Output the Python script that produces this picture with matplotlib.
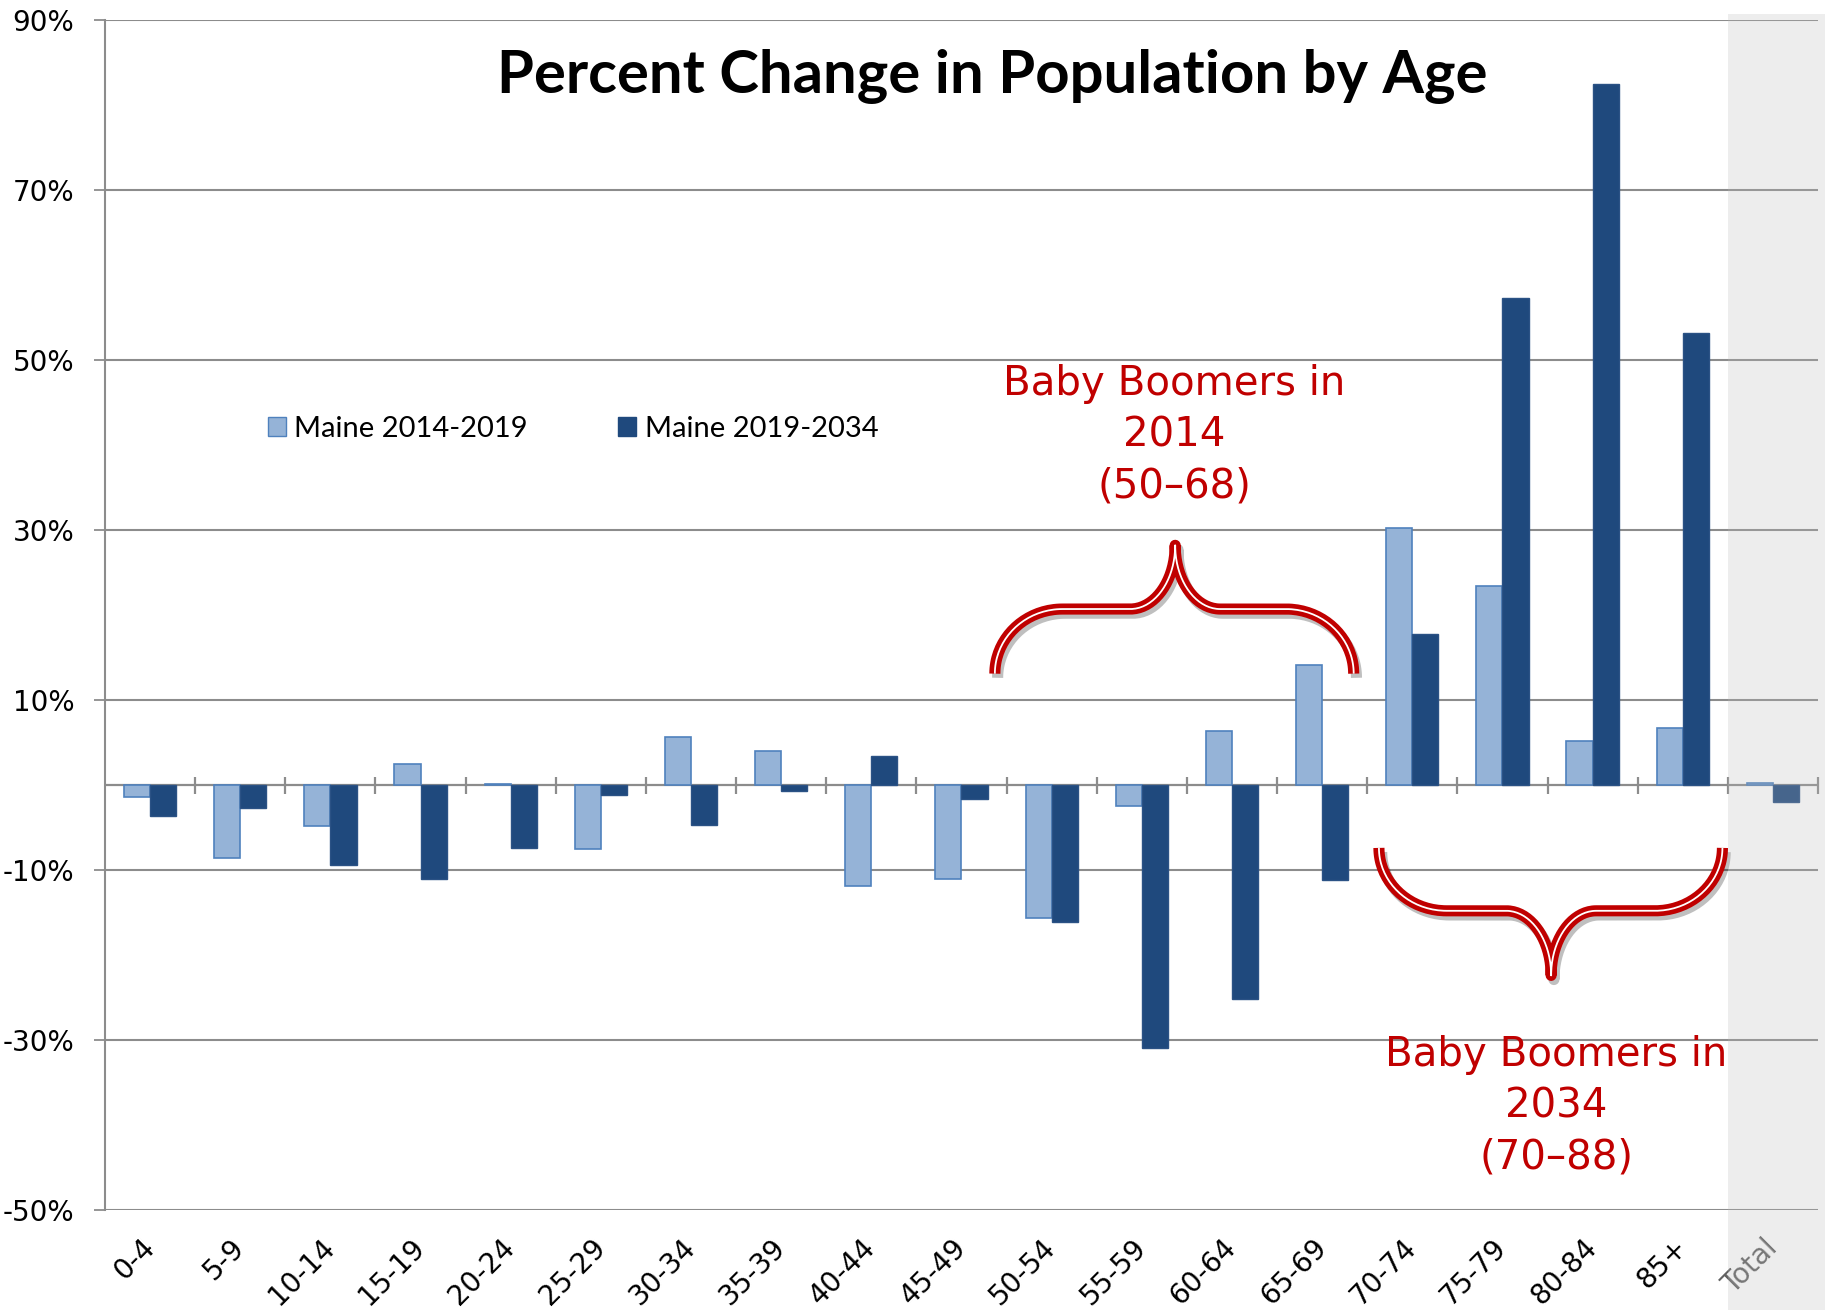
import numpy as np
import matplotlib.pyplot as plt
import matplotlib.patheffects as pe
from matplotlib.patches import Rectangle, Patch
from matplotlib.transforms import blended_transform_factory

# Data (percent change)
ages = ['0-4', '5-9', '10-14', '15-19', '20-24', '25-29', '30-34', '35-39', '40-44',
        '45-49', '50-54', '55-59', '60-64', '65-69', '70-74', '75-79', '80-84', '85+', 'Total']
maine_14_19 = [-1.4, -8.6, -4.8, 2.5, 0.1, -7.5, 5.6, 4.0, -11.9, -11.1,
               -15.7, -2.5, 6.4, 14.1, 30.2, 23.4, 5.2, 6.7, 0.2]
maine_19_34 = [-3.7, -2.7, -9.4, -11.1, -7.4, -1.2, -4.7, -0.7, 3.4, -1.6,
               -16.1, -30.9, -25.2, -11.2, 17.8, 57.3, 82.5, 53.2, -2.0]
y_ticks = [-50, -30, -10, 10, 30, 50, 70, 90]

# brace annotations: (x_left, x_right, x_tip, y_end, y_mid, y_tip)
brace_2014 = (9.37, 13.35, 11.37, 13.1, 20.7, 28.2)
brace_2034 = (13.63, 17.44, 15.54, -7.4, -14.8, -22.4)
label_2014 = (11.36, 41.1, 'Baby Boomers in\n2014\n(50\u201368)')
label_2034 = (15.6, -37.8, 'Baby Boomers in\n2034\n(70\u201388)')

LIGHT = '#95B3D7'
DARK = '#1F497D'
RED = '#C00000'
GRID = '#8C8C8C'

fig = plt.figure(figsize=(18.25, 13.1), dpi=100)
ax = fig.add_axes([105 / 1825, 1 - 1210 / 1310, 1713 / 1825, 1190 / 1310])

x = np.arange(len(ages))
w = 0.29
ax.bar(x - w / 2, maine_14_19, w, color=LIGHT, edgecolor='#4F81BD', linewidth=1.2,
       label='Maine 2014-2019', zorder=3)
ax.bar(x + w / 2, maine_19_34, w, color=DARK, edgecolor='#2B5285', linewidth=1.0,
       label='Maine 2019-2034', zorder=3)

ax.set_xlim(-0.5, len(ages) - 0.5)
ax.set_ylim(-50, 90)
ax.set_yticks(y_ticks)
ax.set_yticklabels([f'{t}%' for t in y_ticks], fontsize=20, family='DejaVu Sans')
ax.yaxis.grid(True, color=GRID, linewidth=1.5, zorder=0)
ax.set_axisbelow(True)
ax.tick_params(axis='y', length=8, width=1.3, color=GRID, pad=14)

ax.set_xticks(x)
ax.set_xticklabels(ages, fontsize=20, rotation=45, ha='right', va='center',
                   rotation_mode='anchor')
ax.tick_params(axis='x', length=0, pad=24)
ax.get_xticklabels()[-1].set_color('#606060')

for s in ['top', 'right', 'bottom']:
    ax.spines[s].set_visible(False)
ax.spines['left'].set_color(GRID)
ax.spines['left'].set_linewidth(1.5)

# zero axis with boundary ticks
ax.axhline(0, color=GRID, linewidth=1.6, zorder=2)
ax.vlines(x[1:] - 0.5, -1.0, 1.0, color=GRID, linewidth=1.6, zorder=2)
ax.vlines([len(ages) - 0.5], -1.0, 1.0, color=GRID, linewidth=1.6, zorder=2, clip_on=False)

ax.legend(handles=[Patch(facecolor=LIGHT, edgecolor='#4F81BD', label='Maine 2014-2019'),
                   Patch(facecolor=DARK, edgecolor=DARK, label='Maine 2019-2034')],
          loc='center left', bbox_to_anchor=(268 / 1825, 1 - 429 / 1310),
          bbox_transform=fig.transFigure, ncol=2, frameon=False, borderpad=0,
          borderaxespad=0, handlelength=0.6, handleheight=0.6, handletextpad=0.3,
          columnspacing=3.1, prop={'family': 'Lato', 'size': 21})


def bez(p0, p1, p2, p3, n=40):
    t = np.linspace(0, 1, n)[:, None]
    pts = np.array([p0, p1, p2, p3], dtype=float)
    return ((1 - t) ** 3 * pts[0] + 3 * (1 - t) ** 2 * t * pts[1]
            + 3 * (1 - t) * t ** 2 * pts[2] + t ** 3 * pts[3])


def draw_brace(xl, xr, xt, ye, ym, yt, rx=0.75, rt=0.5):
    k = 0.552
    segs = [
        bez((xl, ye), (xl, ye + k * (ym - ye)), (xl + (1 - k) * rx, ym), (xl + rx, ym)),
        np.array([(xl + rx, ym), (xt - rt, ym)]),
        bez((xt - rt, ym), (xt - (1 - k) * rt, ym), (xt, ym + (1 - k) * (yt - ym)), (xt, yt)),
        bez((xt, yt), (xt, ym + (1 - k) * (yt - ym)), (xt + (1 - k) * rt, ym), (xt + rt, ym)),
        np.array([(xt + rt, ym), (xr - rx, ym)]),
        bez((xr - rx, ym), (xr - (1 - k) * rx, ym), (xr, ye + k * (ym - ye)), (xr, ye)),
    ]
    pts = np.vstack(segs)
    ax.plot(pts[:, 0], pts[:, 1], color=RED, linewidth=8, solid_capstyle='butt',
            zorder=5, path_effects=[pe.SimpleLineShadow(offset=(2, -3), shadow_color='black',
                                                        alpha=0.25), pe.Normal()])
    ax.plot(pts[:, 0], pts[:, 1], color='white', linewidth=1.3, solid_capstyle='butt', zorder=6)


draw_brace(*brace_2014)
draw_brace(*brace_2034)

for lx, ly, txt in [label_2014, label_2034]:
    ax.text(lx, ly, txt, color=RED, fontsize=29, family='DejaVu Sans', ha='center',
            va='center', linespacing=1.36, zorder=7)

fig.text(992 / 1825, 1 - 77 / 1310, 'Percent Change in Population by Age', fontsize=43,
         weight='bold', family='Lato', ha='center', va='center')

# shaded overlay over the "Total" category
trans = blended_transform_factory(ax.transData, fig.transFigure)
fig.patches.append(Rectangle((len(ages) - 1.5, 0), 2.0, 0.989, transform=trans,
                             facecolor='#BBBBBB', alpha=0.25, edgecolor='none', zorder=10))

fig.savefig('out.png', dpi=100)
